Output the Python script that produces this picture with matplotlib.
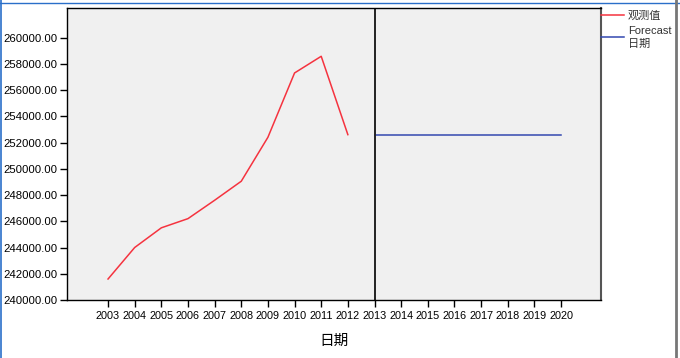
import matplotlib.pyplot as plt
from matplotlib.lines import Line2D

# observed values (观测值) and the flat forecast
years_obs = [2003, 2004, 2005, 2006, 2007, 2008, 2009, 2010, 2011, 2012]
observed = [241600, 244000, 245500, 246200, 247600, 249050, 252400, 257300, 258570, 252600]
years_fc = [2013, 2014, 2015, 2016, 2017, 2018, 2019, 2020]
forecast = [252600] * 8
year_ticks = list(range(2003, 2021))
y_ticks = list(range(240000, 260001, 2000))
split_year = 2013

plt.rcParams['font.family'] = ['Liberation Sans', 'Noto Sans CJK SC', 'DejaVu Sans']

fig = plt.figure(figsize=(6.8, 3.58), dpi=100)
ax = fig.add_axes([67 / 680, 58 / 358, 534 / 680, 292 / 358])
ax.set_facecolor('#f0f0f0')

ax.plot(years_obs, observed, color='#f5333f', lw=1.1)
ax.plot(years_fc, forecast, color='#3348b0', lw=1.1)
ax.axvline(split_year, color='#222222', lw=1.4)

ax.set_xlim(2001.46, 2021.5)
ax.set_ylim(240000, 262250)
ax.set_xticks(year_ticks)
ax.set_xticklabels([str(y) for y in year_ticks], fontsize=7.8)
ax.set_yticks(y_ticks)
ax.set_yticklabels(['%.2f' % v for v in y_ticks], fontsize=8.2)
ax.tick_params(axis='both', direction='out', length=5, width=1, pad=2, colors='black')
ax.tick_params(axis='x', pad=3)
for s in ax.spines.values():
    s.set_linewidth(1)
    s.set_color('black')
ax.spines['right'].set_color('#555555')
ax.spines['right'].set_linewidth(1.5)

ax.set_xlabel('日期', fontsize=10.5, family=['Noto Sans CJK SC', 'DejaVu Sans'], labelpad=9)

handles = [Line2D([], [], color='#f5333f', lw=1.1),
           Line2D([], [], color='#3348b0', lw=1.1)]
leg = ax.legend(handles, ['观测值', 'Forecast\n日期'], loc='upper left',
                bbox_to_anchor=(0.998, 0.995), frameon=False, fontsize=8,
                handlelength=2.1, handletextpad=0.3, labelspacing=0.45,
                borderaxespad=0, borderpad=0.1)
for t in leg.get_texts():
    t.set_color('#333333')
    t.set_linespacing(1.35)

# window frame remnants
fig.add_artist(Line2D([1 / 680, 1 / 680], [0, 1], color='#2a6fc9', lw=1.2))
fig.add_artist(Line2D([0, 1], [1 - 3 / 358, 1 - 3 / 358], color='#2a6fc9', lw=1))
fig.add_artist(Line2D([676 / 680, 676 / 680], [0, 1], color='#777777', lw=2))

fig.savefig('out.png', dpi=100)
